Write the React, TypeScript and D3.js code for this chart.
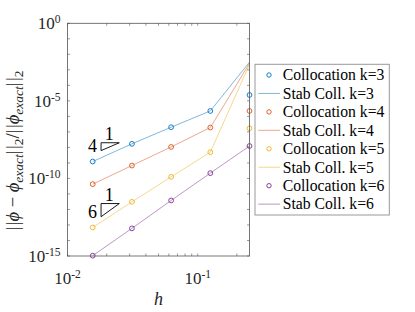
import React from "react";
import * as d3 from "d3";

// mesh sizes
const hValues = [1 / 64, 1 / 32, 1 / 16, 1 / 8, 1 / 4];
const orders = [3, 4, 5, 6];

// relative L2 errors
const collocK3 = [1.23e-9, 1.7e-8, 2.0e-7, 2.24e-6, 2.4e-5];
const stabK3 = [1.23e-9, 1.7e-8, 2.0e-7, 2.24e-6, 3.16e-3];
const collocK4 = [4.27e-11, 6.76e-10, 1.07e-8, 1.91e-7, 2.24e-6];
const stabK4 = [4.27e-11, 6.76e-10, 1.07e-8, 1.91e-7, 2.63e-3];
const collocK5 = [6.92e-14, 3.09e-12, 1.26e-10, 4.9e-9, 1.7e-7];
const stabK5 = [6.92e-14, 3.09e-12, 1.26e-10, 4.9e-9, 2.24e-3];
const collocK6 = [1.05e-15, 6.03e-14, 3.8e-12, 2.19e-10, 1.23e-8];
const stabK6 = [1.05e-15, 6.03e-14, 3.8e-12, 2.19e-10, 1.23e-8];

const collocSeries = [collocK3, collocK4, collocK5, collocK6];
const stabSeries = [stabK3, stabK4, stabK5, stabK6];
const colors = ["#0072BD", "#D95319", "#EDB120", "#7E2F8E"];

const xLabelExps = [-2, -1];
const yLabelExps = [0, -5, -10, -15];
const yDecades = d3.range(-15, 1);

// slope triangles (data coords)
const slopes = [
  { rate: "4", h0: 0.0181, h1: 0.025, top: 2.0e-8, bottom: 6.2e-9 },
  { rate: "6", h0: 0.0181, h1: 0.025, top: 2.4e-12, bottom: 3.4e-13 },
];

const W = 415;
const H = 312;
const m = { left: 67.5, right: 249.5, top: 23.3, bottom: 256 };
const font = "'Liberation Serif', 'Times New Roman', serif";
const axisColor = "#555";

export default function App() {
  const x = d3.scaleLog().domain([0.01, 0.25]).range([m.left, m.right]);
  const y = d3.scaleLog().domain([1e-15, 1]).range([m.bottom, m.top]);
  const line = d3
    .line<number>()
    .x((_, i) => x(hValues[i]))
    .y((d) => y(d));
  const tl = 2.5;
  const xMinor = x.ticks();

  const legendRows = orders.flatMap((k, i) => [
    { label: `Collocation k=${k}`, color: colors[i], marker: true },
    { label: `Stab Coll. k=${k}`, color: colors[i], marker: false },
  ]);
  const lg = { x: 255, y: 64.3, w: 134.3, h: 150.7, row: 18.45, first: 75 };

  return (
    <div style={{ position: "absolute", left: 0, top: 0 }}>
      <svg width={W} height={H} style={{ display: "block", background: "#fff" }}>
        {/* stab coll lines */}
        {stabSeries.map((s, i) => (
          <path key={"l" + i} d={line(s) || ""} fill="none" stroke={colors[i]} strokeWidth={0.6} strokeOpacity={0.85} />
        ))}
        {/* collocation markers */}
        {collocSeries.map((s, i) =>
          s.map((v, j) => (
            <circle
              key={"c" + i + "-" + j}
              cx={x(hValues[j])}
              cy={y(v)}
              r={2.4}
              fill="none"
              stroke={colors[i]}
              strokeWidth={0.9}
            />
          ))
        )}
        {/* axes box */}
        <rect
          x={m.left}
          y={m.top}
          width={m.right - m.left}
          height={m.bottom - m.top}
          fill="none"
          stroke={axisColor}
          strokeWidth={0.8}
        />
        {xMinor.map((t, i) => (
          <g key={"xt" + i} stroke={axisColor} strokeWidth={0.6}>
            <line x1={x(t)} x2={x(t)} y1={m.bottom} y2={m.bottom - tl} />
            <line x1={x(t)} x2={x(t)} y1={m.top} y2={m.top + tl} />
          </g>
        ))}
        {yDecades.map((e) => (
          <g key={"yt" + e} stroke={axisColor} strokeWidth={0.6}>
            <line x1={m.left} x2={m.left + tl} y1={y(10 ** e)} y2={y(10 ** e)} />
            <line x1={m.right} x2={m.right - tl} y1={y(10 ** e)} y2={y(10 ** e)} />
          </g>
        ))}
        {/* tick labels */}
        {xLabelExps.map((e) => (
          <text key={"xl" + e} x={x(10 ** e)} y={m.bottom + 27.5} textAnchor="middle" fontFamily={font} fontSize={17} fill="#262626">
            10
            <tspan fontSize={11.5} dy={-6}>
              {e < 0 ? "-" + -e : e}
            </tspan>
          </text>
        ))}
        {yLabelExps.map((e) => (
          <text key={"yl" + e} x={m.left - 7} y={y(10 ** e) + 6} textAnchor="end" fontFamily={font} fontSize={17} fill="#262626">
            10
            <tspan fontSize={11.5} dy={-6}>
              {e < 0 ? "-" + -e : e}
            </tspan>
          </text>
        ))}
        {/* axis labels */}
        <text x={(m.left + m.right) / 2} y={305} textAnchor="middle" fontFamily={font} fontSize={18} fontStyle="italic" fill="#262626">
          h
        </text>
        <text
          transform="translate(19,150.5) rotate(-90)"
          textAnchor="middle"
          fontFamily={font}
          fontSize={18.5}
          fill="#262626"
        >
          |&#8202;|<tspan fontStyle="italic">ϕ</tspan> − <tspan fontStyle="italic">ϕ</tspan>
          <tspan fontSize={13.5} fontStyle="italic" dy={4}>exact</tspan>
          <tspan dy={-4}>|&#8202;|</tspan>
          <tspan fontSize={13.5} dy={4}>2</tspan>
          <tspan dy={-4}>/|&#8202;|</tspan>
          <tspan fontStyle="italic">ϕ</tspan>
          <tspan fontSize={13.5} fontStyle="italic" dy={4}>exact</tspan>
          <tspan dy={-4}>|&#8202;|</tspan>
          <tspan fontSize={13.5} dy={4}>2</tspan>
        </text>
        {/* slope triangles */}
        {slopes.map((s, i) => {
          const x0 = x(s.h0);
          const x1 = x(s.h1);
          const yt = y(s.top);
          const yb = y(s.bottom);
          return (
            <g key={"s" + i}>
              <path d={`M${x0},${yt}L${x1},${yt}L${x0},${yb}Z`} fill="none" stroke="#000" strokeWidth={0.9} />
              <text x={(x0 + x1) / 2 - 1} y={yt - 2.7} textAnchor="middle" fontFamily={font} fontSize={18}>
                1
              </text>
              <text x={x0 - 8.5} y={yb + 1} textAnchor="middle" fontFamily={font} fontSize={18}>
                {s.rate}
              </text>
            </g>
          );
        })}
        {/* legend */}
        <rect x={lg.x} y={lg.y} width={lg.w} height={lg.h} fill="#fff" stroke="#999" strokeWidth={1} />
        {legendRows.map((r, i) => {
          const cy = lg.first + i * lg.row;
          return (
            <g key={"lg" + i}>
              {r.marker ? (
                <circle cx={269} cy={cy} r={2.2} fill="none" stroke={r.color} strokeWidth={0.9} />
              ) : (
                <line x1={258.3} x2={280} y1={cy} y2={cy} stroke={r.color} strokeWidth={0.6} strokeOpacity={0.85} />
              )}
              <text x={282.7} y={cy + 5.3} fontFamily={font} fontSize={15.7} fill="#000">
                {r.label}
              </text>
            </g>
          );
        })}
      </svg>
    </div>
  );
}
